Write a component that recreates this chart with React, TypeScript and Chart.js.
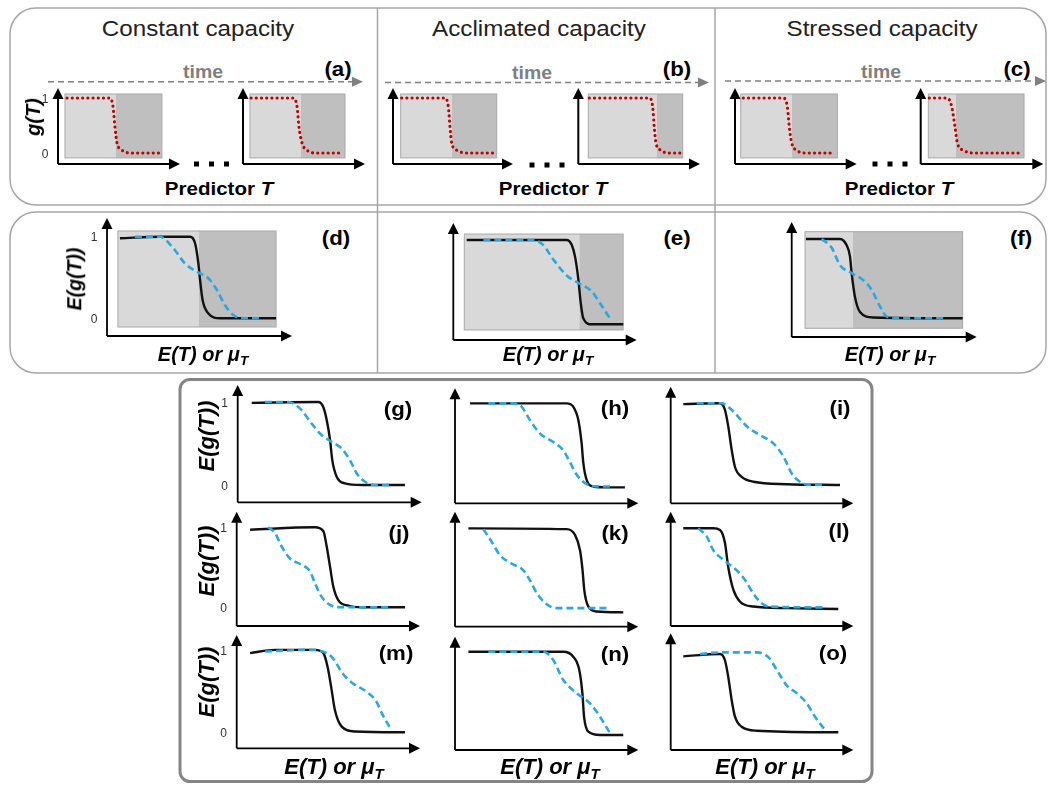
import React, { useEffect, useRef } from "react";
import { Chart, registerables } from "chart.js";

Chart.register(...registerables);

const FONT = '"Liberation Sans", Arial, Helvetica, sans-serif';
const RED = "#c00000";
const BLACK = "#111111";
const BLUE = "#2aa8e0";
const LIGHT = "#d9d9d9";
const DARK = "#bfbfbf";

// ---------- text ----------
const tickValues = [0, 1];
const tickLabels = ["0", "1"];
const columnTitles = ["Constant capacity", "Acclimated capacity", "Stressed capacity"];
const letters = ["(a)", "(b)", "(c)", "(d)", "(e)", "(f)", "(g)", "(h)", "(i)", "(j)", "(k)", "(l)", "(m)", "(n)", "(o)"];

// ---------- data: x in % of axis length, y = g(T) / E(g(T)) ----------
// top row: individual performance curves g(T) at two times
const redA1 = [[7.4, 1], [42.6, 1], [45.1, 0.84], [46.7, 0.47], [48.4, 0.18], [52.5, 0.05], [60.7, 0], [83.6, 0]];
const redA2 = [[6.6, 1], [41, 1], [44.3, 0.84], [45.9, 0.47], [48.4, 0.18], [52.5, 0.05], [59, 0], [82, 0]];
const redB1 = [[7.2, 1], [43.3, 1], [46.1, 0.84], [47.5, 0.47], [48.9, 0.18], [53.1, 0.05], [61.4, 0], [85.8, 0]];
const redB2 = [[9.0, 1], [58.3, 1], [61.1, 0.84], [62.4, 0.47], [63.8, 0.18], [67.7, 0.05], [73.9, 0], [83.6, 0]];
const redC1 = [[6.8, 1], [39.7, 1], [43.0, 0.84], [44.6, 0.47], [46.6, 0.18], [50.7, 0.05], [58.9, 0], [82.2, 0]];
const redC2 = [[7.0, 1], [21.7, 1], [25.3, 0.84], [28.0, 0.47], [29.9, 0.18], [34.8, 0.05], [42.9, 0], [83.2, 0]];

// shading boxes [xStart, xSplit, xEnd, yTop, yBottom]
const boxA1 = [5.7, 47.5, 85.2, 1.073, -0.09];
const boxA2 = [5.7, 47.5, 83.6, 1.073, -0.09];
const boxB1 = [6.4, 48.9, 86.4, 1.073, -0.09];
const boxB2 = [8.2, 64.4, 85.8, 1.073, -0.09];
const boxC1 = [4.7, 46.6, 84.1, 1.073, -0.09];
const boxC2 = [6.2, 28.8, 84.3, 1.073, -0.09];
const boxD = [5.9, 49.7, 91.4, 1.07, -0.107];
const boxE = [6.0, 68.7, 92.6, 1.071, -0.067];
const boxF = [7.2, 33.0, 92.4, 1.092, -0.126];

// middle row: expected performance (black solid) and blue dashed
const blackD = [[7.0, 0.98], [28.6, 1.0], [44.9, 1.0], [47.6, 0.92], [49.4, 0.67], [50.3, 0.47], [51.7, 0.22], [54.8, 0.06], [61.1, 0], [91.4, 0]];
const blueD = [[15.1, 1.0], [28.6, 1.0], [35.8, 0.86], [42.2, 0.67], [48.5, 0.57], [54.8, 0.49], [59.3, 0.35], [63.8, 0.16], [68.3, 0.04], [73.7, 0], [82.7, 0]];
const blackE = [[7.3, 1], [61.8, 1], [64.6, 0.94], [66.4, 0.8], [68.2, 0.53], [69.5, 0.25], [70.9, 0.07], [75.5, 0], [92.7, 0]];
const blueE = [[16.4, 1], [43.6, 1], [49.1, 0.94], [54.5, 0.77], [61.8, 0.58], [68.2, 0.49], [75.5, 0.39], [80.0, 0.25], [85.4, 0.07]];
const blackF = [[7.7, 1], [26.1, 1], [29.7, 0.92], [31.5, 0.78], [32.4, 0.57], [34.2, 0.27], [36.9, 0.08], [44.1, 0.01], [92.4, 0]];
const blueF = [[16.2, 1], [21.6, 0.89], [26.1, 0.67], [32.4, 0.57], [38.7, 0.48], [43.2, 0.36], [47.7, 0.15], [51.4, 0.02], [56.8, 0], [83.8, 0]];

// bottom grid
const blackG = [[7.6, 0.99], [43.8, 1], [46.5, 0.94], [48.4, 0.78], [50.2, 0.54], [51.4, 0.3], [53.8, 0.1], [58.3, 0.02], [67.4, 0], [90.9, 0]];
const blueG = [[14.8, 1], [27.5, 1], [33.9, 0.92], [40.2, 0.74], [45.7, 0.6], [51.1, 0.52], [56.5, 0.44], [61.0, 0.3], [64.7, 0.14], [69.2, 0.04], [74.6, 0], [83.7, 0]];
const blackH = [[8.2, 1], [60.9, 1], [64.5, 0.96], [67.3, 0.8], [69.1, 0.52], [70.0, 0.29], [71.8, 0.09], [75.5, 0.01], [82.8, 0], [92.7, 0]];
const blueH = [[18.2, 1], [31.8, 1], [35.5, 0.98], [40.9, 0.8], [46.4, 0.64], [53.6, 0.54], [59.1, 0.44], [62.7, 0.3], [66.4, 0.15], [70.9, 0.05], [77.3, 0.01], [84.6, 0.01]];
const blackI = [[6.9, 0.99], [27.0, 1], [29.7, 0.92], [31.5, 0.72], [33.4, 0.43], [35.2, 0.22], [38.9, 0.1], [45.3, 0.04], [63.5, 0.01], [92.7, 0]];
const blueI = [[14.2, 1], [27.9, 1], [34.3, 0.9], [41.6, 0.72], [48.9, 0.61], [56.2, 0.51], [61.7, 0.35], [66.3, 0.14], [70.8, 0.04], [76.3, 0], [83.6, 0]];
const blackJ = [[7.3, 0.97], [42.7, 1], [47.3, 0.95], [49.1, 0.76], [50.9, 0.51], [52.7, 0.26], [55.4, 0.09], [60.9, 0.02], [68.2, 0], [91.8, 0]];
const blueJ = [[17.2, 1], [20.9, 0.93], [24.5, 0.76], [29.1, 0.61], [35.5, 0.53], [40.0, 0.45], [42.7, 0.3], [46.4, 0.13], [50.9, 0.03], [57.3, 0], [84.6, 0]];
const blackK = [[7.3, 1], [60.9, 0.99], [65.5, 0.92], [68.2, 0.74], [69.6, 0.5], [70.5, 0.27], [72.7, 0.07], [77.3, 0.01], [91.8, 0]];
const blueK = [[15.5, 0.99], [20.0, 0.84], [24.5, 0.68], [30.9, 0.58], [37.3, 0.5], [40.9, 0.38], [44.6, 0.23], [49.1, 0.11], [55.5, 0.05], [83.6, 0.05]];
const blackL = [[6.9, 1], [23.3, 1], [27.0, 0.98], [29.7, 0.82], [31.5, 0.52], [34.3, 0.24], [38.0, 0.09], [45.3, 0.03], [63.5, 0.01], [91.8, 0]];
const blueL = [[15.1, 1], [19.7, 0.9], [23.3, 0.73], [28.8, 0.61], [36.1, 0.48], [40.7, 0.36], [45.3, 0.19], [49.8, 0.07], [54.3, 0.03], [83.6, 0.02]];
const blackM = [[7.3, 0.97], [20.9, 1.01], [42.7, 1.01], [47.3, 0.97], [49.6, 0.8], [51.5, 0.56], [53.6, 0.27], [57.3, 0.07], [64.6, 0.01], [91.8, 0]];
const blueM = [[15.5, 0.99], [39.6, 1.01], [46.9, 0.99], [52.4, 0.91], [57.8, 0.72], [63.3, 0.6], [70.6, 0.5], [76.1, 0.38], [79.7, 0.21], [84.4, 0.03]];
const blackN = [[7.3, 1], [59.1, 1], [64.5, 0.94], [67.8, 0.78], [69.5, 0.5], [70.4, 0.22], [72.7, 0.04], [79.1, 0], [91.8, 0]];
const blueN = [[18.2, 1], [48.2, 1], [53.6, 0.9], [59.1, 0.66], [66.4, 0.5], [73.6, 0.38], [79.1, 0.22], [84.6, 0.02]];
const blackO = [[6.9, 0.97], [27.0, 1], [29.7, 0.92], [31.5, 0.71], [33.4, 0.41], [35.2, 0.2], [38.9, 0.07], [47.1, 0.02], [91.8, 0]];
const blueO = [[16.0, 1], [27.0, 1.02], [47.1, 1.02], [53.5, 0.96], [58.0, 0.8], [63.5, 0.6], [69.0, 0.5], [74.5, 0.37], [79.0, 0.2], [84.5, 0.03]];

// ---------- layout ----------
interface PanelDef {
  left: number; right: number; top: number; bottom: number;
  yMin: number; yMax: number;
  box?: number[]; red?: number[][]; black?: number[][]; blue?: number[][];
  ticks?: boolean; axisW: number;
}

const TOP = { top: 88, bottom: 164, yMin: -0.2, yMax: 1.182, axisW: 2 };
const PANELS: PanelDef[] = [
  { ...TOP, left: 58, right: 180, box: boxA1, red: redA1, ticks: true },
  { ...TOP, left: 243, right: 365, box: boxA2, red: redA2 },
  { ...TOP, left: 393, right: 513, box: boxB1, red: redB1 },
  { ...TOP, left: 578.3, right: 700, box: boxB2, red: redB2 },
  { ...TOP, left: 735, right: 856.7, box: boxC1, red: redC1 },
  { ...TOP, left: 920.7, right: 1043.3, box: boxC2, red: redC2 },
  { left: 107, right: 292, top: 218, bottom: 336, yMin: -0.217, yMax: 1.229, box: boxD, black: blackD, blue: blueD, ticks: true, axisW: 1.8 },
  { left: 453.3, right: 636.7, top: 223, bottom: 340, yMin: -0.186, yMax: 1.202, box: boxE, black: blackE, blue: blueE, axisW: 1.8 },
  { left: 791.7, right: 976.7, top: 222, bottom: 337, yMin: -0.236, yMax: 1.214, box: boxF, black: blackF, blue: blueF, axisW: 1.8 },
  { left: 237.7, right: 421.7, top: 385, bottom: 502.3, yMin: -0.208, yMax: 1.205, black: blackG, blue: blueG, ticks: true, axisW: 1.8 },
  { left: 455, right: 638.3, top: 388.3, bottom: 503.3, yMin: -0.19, yMax: 1.179, black: blackH, blue: blueH, axisW: 1.8 },
  { left: 670.7, right: 853.3, top: 386.7, bottom: 503.3, yMin: -0.224, yMax: 1.203, black: blackI, blue: blueI, axisW: 1.8 },
  { left: 236.7, right: 420, top: 511.7, bottom: 626, yMin: -0.234, yMax: 1.195, black: blackJ, blue: blueJ, ticks: true, axisW: 1.8 },
  { left: 455, right: 638.3, top: 511.7, bottom: 626.7, yMin: -0.171, yMax: 1.198, black: blackK, blue: blueK, axisW: 1.8 },
  { left: 670.7, right: 853.3, top: 511.7, bottom: 626, yMin: -0.211, yMax: 1.206, black: blackL, blue: blueL, axisW: 1.8 },
  { left: 236.7, right: 420, top: 635, bottom: 748.3, yMin: -0.196, yMax: 1.192, black: blackM, blue: blueM, ticks: true, axisW: 1.8 },
  { left: 455, right: 638.3, top: 636.7, bottom: 750, yMin: -0.18, yMax: 1.18, black: blackN, blue: blueN, axisW: 1.8 },
  { left: 670.7, right: 853.3, top: 633.3, bottom: 750, yMin: -0.226, yMax: 1.264, black: blackO, blue: blueO, axisW: 1.8 },
];

const letterPos = [
  [338, 68], [677, 68], [1017, 68],
  [336, 237], [677, 237], [1021, 237],
  [398, 408], [615, 407], [840, 407],
  [399, 532], [615, 532], [839, 530],
  [396, 652], [615, 653], [833, 652],
];

function toXY(arr: number[][]) {
  return arr.map(([x, y]) => ({ x, y }));
}

function MiniChart({ p }: { p: PanelDef }) {
  const ref = useRef<HTMLCanvasElement>(null);
  const padL = p.ticks ? 28 : 9;
  const cl = Math.floor(p.left) - padL;
  const ct = Math.floor(p.top) - 3;
  const cw = Math.ceil(p.right) + 3 - cl;
  const ch = Math.ceil(p.bottom) + 9 - ct;

  useEffect(() => {
    const canvas = ref.current;
    if (!canvas) return;
    const common = { pointRadius: 0, pointHoverRadius: 0, fill: false, cubicInterpolationMode: "monotone", clip: false };
    const datasets: any[] = [];
    if (p.blue) datasets.push({ ...common, data: toXY(p.blue), borderColor: BLUE, borderWidth: 2.6, borderDash: [7, 4], order: 0 });
    if (p.black) datasets.push({ ...common, data: toXY(p.black), borderColor: BLACK, borderWidth: 2.4, order: 1 });
    if (p.red) datasets.push({ ...common, data: toXY(p.red), borderColor: RED, borderWidth: 3.1, borderDash: [0.1, 5.1], borderCapStyle: "round", order: 0 });

    const deco = {
      id: "deco",
      beforeDatasetsDraw(chart: any) {
        if (!p.box) return;
        const { ctx } = chart;
        const xs = chart.scales.x, ys = chart.scales.y;
        const [x1, xm, x2, yt, yb] = p.box;
        const X1 = xs.getPixelForValue(x1), XM = xs.getPixelForValue(xm), X2 = xs.getPixelForValue(x2);
        const YT = ys.getPixelForValue(yt), YB = ys.getPixelForValue(yb);
        ctx.save();
        ctx.fillStyle = LIGHT;
        ctx.fillRect(X1, YT, XM - X1, YB - YT);
        ctx.fillStyle = DARK;
        ctx.fillRect(XM, YT, X2 - XM, YB - YT);
        ctx.strokeStyle = "#a9a9a9";
        ctx.lineWidth = 1;
        ctx.strokeRect(X1, YT, X2 - X1, YB - YT);
        ctx.restore();
      },
      afterDatasetsDraw(chart: any) {
        const { ctx, chartArea: a } = chart;
        const ah = 10.5, aw = 5.5;
        ctx.save();
        ctx.strokeStyle = "#000";
        ctx.fillStyle = "#000";
        ctx.lineWidth = p.axisW;
        ctx.beginPath();
        ctx.moveTo(a.left, a.bottom);
        ctx.lineTo(a.left, a.top + ah);
        ctx.moveTo(a.left, a.bottom);
        ctx.lineTo(a.right - ah, a.bottom);
        ctx.stroke();
        ctx.beginPath();
        ctx.moveTo(a.left, a.top);
        ctx.lineTo(a.left - aw, a.top + ah + 0.5);
        ctx.lineTo(a.left + aw, a.top + ah + 0.5);
        ctx.closePath();
        ctx.fill();
        ctx.beginPath();
        ctx.moveTo(a.right, a.bottom);
        ctx.lineTo(a.right - ah - 0.5, a.bottom - aw);
        ctx.lineTo(a.right - ah - 0.5, a.bottom + aw);
        ctx.closePath();
        ctx.fill();
        if (p.ticks) {
          ctx.font = `12px ${FONT}`;
          ctx.fillStyle = "#333";
          ctx.textAlign = "center";
          ctx.textBaseline = "middle";
          tickValues.forEach((v, i) => {
            ctx.fillText(tickLabels[i], a.left - 13, chart.scales.y.getPixelForValue(v) + 1.5);
          });
        }
        ctx.restore();
      },
    };

    const chart = new Chart(canvas, {
      type: "line",
      data: { datasets },
      options: {
        animation: false,
        responsive: false,
        devicePixelRatio: 1,
        events: [],
        layout: {
          padding: { left: p.left - cl, top: p.top - ct, right: cl + cw - p.right, bottom: ct + ch - p.bottom },
        },
        scales: {
          x: { type: "linear", min: 0, max: 100, display: false },
          y: { type: "linear", min: p.yMin, max: p.yMax, display: false },
        },
        plugins: { legend: { display: false }, tooltip: { enabled: false } },
      } as any,
      plugins: [deco],
    });
    return () => chart.destroy();
  }, []);

  return (
    <canvas
      ref={ref}
      width={cw}
      height={ch}
      style={{ position: "absolute", left: cl, top: ct, width: cw, height: ch }}
    />
  );
}

function Label(props: {
  x: number; y: number; size: number; children: React.ReactNode;
  bold?: boolean; italic?: boolean; color?: string; rotate?: boolean; sx?: number;
}) {
  const { x, y, size, children, bold, italic, color, rotate, sx } = props;
  return (
    <div
      style={{
        position: "absolute",
        left: x,
        top: y,
        transform: `translate(-50%,-50%)${rotate ? " rotate(-90deg)" : ""} scaleX(${sx ?? 1})`,
        fontFamily: FONT,
        fontSize: size,
        fontWeight: bold ? "bold" : "normal",
        fontStyle: italic ? "italic" : "normal",
        color: color ?? "#000",
        lineHeight: 1,
        whiteSpace: "nowrap",
      }}
    >
      {children}
    </div>
  );
}

const XLabel = () => (
  <>
    E(T) or μ
    <span style={{ fontSize: "0.68em", position: "relative", top: "0.32em" }}>T</span>
  </>
);

export default function App() {
  const titlePos = [198, 539, 882];
  const predictorPos = [219, 553, 899];
  const timePos = [[203, 72], [532, 73], [881, 72]];
  const timeArrows = [[48, 363, 81.7], [385, 709, 82.5], [725, 1046, 81]];
  const dotsPos = [[196.5, 164], [532, 165], [875, 164]];
  const midXLabel = [203, 548, 890];
  const botXLabel = [334, 550, 765];
  const botYLabel = [436, 561, 682];

  return (
    <div style={{ position: "absolute", left: 0, top: 0, width: 1048, height: 785, background: "#fff", overflow: "hidden" }}>
      <svg width={1048} height={785} style={{ position: "absolute", left: 0, top: 0 }}>
        <rect x={10} y={8} width={1036} height={197} rx={26} fill="none" stroke="#a6a6a6" strokeWidth={1.5} />
        <rect x={10} y={212} width={1036} height={161} rx={26} fill="none" stroke="#a6a6a6" strokeWidth={1.5} />
        <line x1={377.5} y1={8} x2={377.5} y2={373} stroke="#a6a6a6" strokeWidth={1.5} />
        <line x1={715} y1={8} x2={715} y2={373} stroke="#a6a6a6" strokeWidth={1.5} />
        <rect x={180} y={379.5} width={692} height={402} rx={10} fill="none" stroke="#858585" strokeWidth={3} />
        {timeArrows.map(([x1, tip, y], i) => (
          <g key={i}>
            <line x1={x1} y1={y} x2={tip - 10} y2={y} stroke="#808080" strokeWidth={1.5} strokeDasharray="6 4" />
            <polygon points={`${tip},${y} ${tip - 11},${y - 5} ${tip - 11},${y + 5}`} fill="#808080" />
          </g>
        ))}
        {dotsPos.map(([cx, cy], i) => (
          <g key={i}>
            {[0, 15, 30].map((d) => (
              <rect key={d} x={cx + d - 2.5} y={cy - 2.5} width={5} height={5} fill="#000" />
            ))}
          </g>
        ))}
      </svg>

      {PANELS.map((p, i) => (
        <MiniChart key={i} p={p} />
      ))}

      {columnTitles.map((t, i) => (
        <Label key={t} x={titlePos[i]} y={28.5} size={22} color="#222" sx={1.1}>
          {t}
        </Label>
      ))}
      {timePos.map(([x, y], i) => (
        <Label key={i} x={x} y={y} size={18} bold color="#7f7f7f" sx={1.08}>
          time
        </Label>
      ))}
      {predictorPos.map((x, i) => (
        <Label key={i} x={x} y={188} size={19} bold sx={1.08}>
          Predictor <i>T</i>
        </Label>
      ))}
      {letters.map((l, i) => (
        <Label key={l} x={letterPos[i][0]} y={letterPos[i][1]} size={21} bold sx={1.06}>
          {l}
        </Label>
      ))}

      <Label x={33} y={117} size={20} bold italic rotate>
        g(T)
      </Label>
      <Label x={75} y={279} size={19.5} bold italic rotate>
        E(g(T))
      </Label>
      {botYLabel.map((y, i) => (
        <Label key={i} x={207} y={y} size={22} bold italic rotate>
          E(g(T))
        </Label>
      ))}
      {midXLabel.map((x, i) => (
        <Label key={i} x={x} y={354} size={20} bold italic>
          <XLabel />
        </Label>
      ))}
      {botXLabel.map((x, i) => (
        <Label key={i} x={x} y={767} size={22} bold italic>
          <XLabel />
        </Label>
      ))}
    </div>
  );
}
